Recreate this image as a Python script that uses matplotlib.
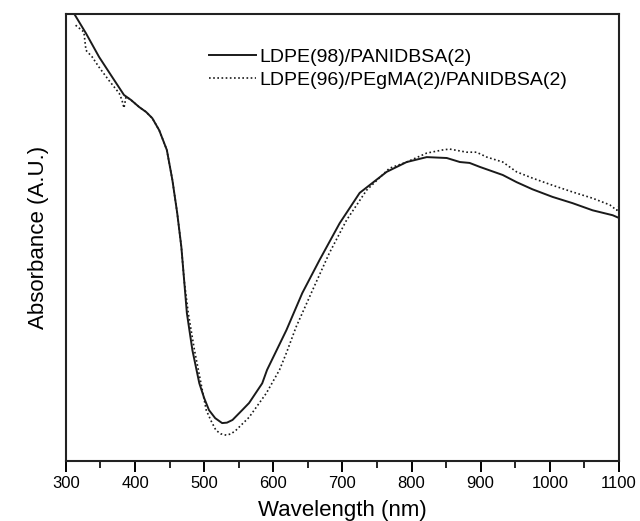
import matplotlib
matplotlib.use("Agg")
import matplotlib.pyplot as plt
from matplotlib.ticker import MultipleLocator

plt.rcParams['font.family'] = ['Liberation Sans', 'DejaVu Sans']

# LDPE(98)/PANIDBSA(2) -- solid
wl_a = [313, 329, 348, 367, 384, 394, 406, 416, 425, 435, 446, 454, 461, 467,
        471, 475, 483, 493, 500, 507, 516, 526, 533, 541, 555, 565, 584, 591,
        619, 642, 667, 696, 725, 764, 793, 822, 851, 870, 884, 899, 932, 952,
        975, 1004, 1033, 1062, 1091, 1100]
abs_a = [0.998, 0.957, 0.904, 0.859, 0.819, 0.808, 0.792, 0.781, 0.767, 0.740,
         0.696, 0.629, 0.555, 0.479, 0.405, 0.331, 0.248, 0.174, 0.141, 0.114,
         0.096, 0.085, 0.086, 0.092, 0.114, 0.130, 0.174, 0.204, 0.293, 0.376,
         0.450, 0.532, 0.600, 0.647, 0.669, 0.680, 0.678, 0.669, 0.667, 0.658,
         0.640, 0.624, 0.608, 0.591, 0.577, 0.561, 0.550, 0.544]

# LDPE(96)/PEgMA(2)/PANIDBSA(2) -- dotted
wl_b = [314, 326, 329, 338, 348, 362, 377, 381, 384, 387, 394, 406, 416, 425,
        435, 446, 454, 461, 467, 471, 477, 486, 503, 510, 517, 524, 532, 539,
        546, 565, 590, 609, 619, 633, 657, 681, 706, 735, 768, 793, 822, 845,
        855, 880, 894, 909, 932, 952, 975, 1004, 1033, 1062, 1087, 1097, 1100]
abs_b = [0.975, 0.960, 0.919, 0.904, 0.881, 0.852, 0.823, 0.808, 0.790, 0.815,
         0.808, 0.792, 0.781, 0.767, 0.740, 0.696, 0.629, 0.555, 0.479, 0.405,
         0.331, 0.248, 0.114, 0.090, 0.069, 0.061, 0.058, 0.061, 0.069, 0.098,
         0.152, 0.204, 0.242, 0.300, 0.383, 0.465, 0.539, 0.606, 0.655, 0.669,
         0.689, 0.696, 0.698, 0.691, 0.691, 0.680, 0.669, 0.647, 0.633, 0.617,
         0.602, 0.588, 0.573, 0.561, 0.570]

labels = ['LDPE(98)/PANIDBSA(2)', 'LDPE(96)/PEgMA(2)/PANIDBSA(2)']

fig = plt.figure(figsize=(6.4, 5.21), dpi=100)
ax = fig.add_axes([0.103, 0.115, 0.864, 0.858])

ax.plot(wl_a, abs_a, color='#1a1a1a', lw=1.4, label=labels[0])
ax.plot(wl_b, abs_b, color='#1a1a1a', lw=1.2, linestyle=(0, (1, 1.5)), label=labels[1])

ax.set_xlim(300, 1100)
ax.set_ylim(0, 1)
ax.xaxis.set_major_locator(MultipleLocator(100))
ax.xaxis.set_minor_locator(MultipleLocator(50))
ax.tick_params(axis='x', which='major', direction='out', length=8, width=1.4,
               labelsize=12, pad=3)
ax.tick_params(axis='x', which='minor', direction='out', length=5, width=1.2)
ax.set_yticks([])
for s in ax.spines.values():
    s.set_linewidth(1.5)
    s.set_color('#222222')

ax.set_xlabel('Wavelength (nm)', fontsize=16, labelpad=6)
ax.set_ylabel('Absorbance (A.U.)', fontsize=16, labelpad=12)

ax.legend(loc='upper left', bbox_to_anchor=(0.259, 0.924), frameon=False,
          fontsize=14, handlelength=2.4, handletextpad=0.2, labelspacing=0.3,
          borderpad=0, borderaxespad=0)

fig.savefig('out.png', dpi=100)
